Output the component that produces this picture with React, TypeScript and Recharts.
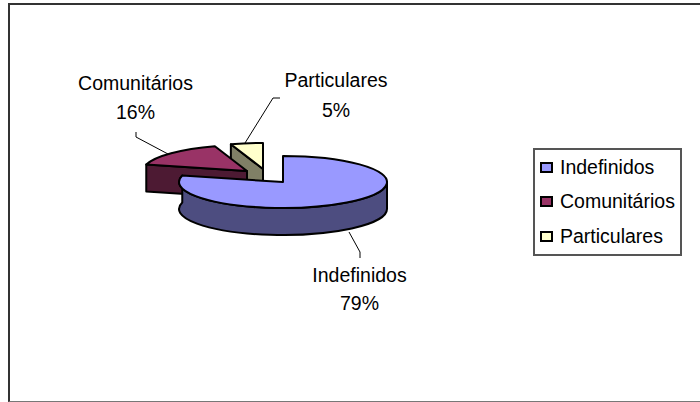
import { PieChart, Pie, Legend } from 'recharts';

const categories = ['Indefinidos', 'Comunitários', 'Particulares'];
const shares = [79, 16, 5];
const topColors = ['#9999ff', '#993366', '#ffffcc'];
const sideColors = ['#4d4d80', '#4d1a33', '#808066'];

// Particulares is painted first so the big slice ends up on top
const pieData = categories
  .map((name, i) => ({ name, value: shares[i], fill: topColors[i], side: sideColors[i] }))
  .reverse();

const SQUASH = 0.25;
const DEPTH = 27;
const RAD = Math.PI / 180;

// how far each slice is pulled out of the pie
const explode: Record<string, [number, number]> = {
  Indefinidos: [0, 0],
  'Comunitários': [-36, -11],
  Particulares: [-20, -13],
};

// label text centre + leader line
const labelSpots: Record<string, { x: number; y1: number; y2: number; line: string }> = {
  Indefinidos: { x: 359.5, y1: 275, y2: 303, line: '349,232 360,252 360,258' },
  'Comunitários': { x: 135.5, y1: 83, y2: 112, line: '136,132 136,137 168,154' },
  Particulares: { x: 336, y1: 80, y2: 110, line: '280,98 273,98 245,143' },
};

// ── Fake 3D slice: flattened sector with an extruded wall ─────────────────────
function Slice3D(props: any) {
  const { cx, cy, outerRadius, startAngle, endAngle, fill, name, side } = props;
  const [dx, dy] = explode[name];
  const ox = cx + dx;
  const oy = cy + dy;
  const rx = outerRadius;
  const ry = outerRadius * SQUASH;
  const lo = Math.min(startAngle, endAngle);
  const hi = Math.max(startAngle, endAngle);
  const px = (a: number) => ox + rx * Math.cos(a * RAD);
  const py = (a: number) => oy - ry * Math.sin(a * RAD);
  const large = hi - lo > 180 ? 1 : 0;

  const top = `M${ox},${oy} L${px(lo)},${py(lo)} A${rx},${ry} 0 ${large} 0 ${px(hi)},${py(hi)} Z`;
  const cut = (a: number) =>
    `M${ox},${oy} L${px(a)},${py(a)} L${px(a)},${py(a) + DEPTH} L${ox},${oy + DEPTH} Z`;

  // only cut faces turned towards the viewer get drawn
  const showLo = Math.cos(lo * RAD) > 0.001;
  const showHi = Math.cos(hi * RAD) < -0.001;

  // outer wall only for the slice that reaches the front of the ellipse
  const to = Math.min(hi, 360);
  const wallLarge = to - lo > 180 ? 1 : 0;
  const wall =
    hi > 180
      ? `M${px(lo)},${py(lo)} A${rx},${ry} 0 ${wallLarge} 0 ${px(to)},${py(to)} L${px(to)},${py(to) + DEPTH} A${rx},${ry} 0 ${wallLarge} 1 ${px(lo)},${py(lo) + DEPTH} Z`
      : null;

  return (
    <g stroke="#000" strokeWidth={2} strokeLinejoin="round">
      {showHi && <path d={cut(hi)} fill={side} />}
      {showLo && <path d={cut(lo)} fill={side} />}
      {wall && <path d={wall} fill={side} />}
      <path d={top} fill={fill} />
    </g>
  );
}

function SliceLabel(props: any) {
  const spot = labelSpots[props.name];
  return (
    <g>
      <polyline points={spot.line} fill="none" stroke="#000" strokeWidth={1} />
      <text x={spot.x} y={spot.y1} textAnchor="middle" dominantBaseline="central" fontSize={19.5} fill="#000">
        {props.name}
      </text>
      <text x={spot.x} y={spot.y2} textAnchor="middle" dominantBaseline="central" fontSize={19.5} fill="#000">
        {`${props.value}%`}
      </text>
    </g>
  );
}

function LegendBox({ payload }: any) {
  const rows = [...(payload ?? [])].sort(
    (a: any, b: any) => categories.indexOf(a.value) - categories.indexOf(b.value),
  );
  return (
    <div
      style={{
        boxSizing: 'border-box',
        width: 149,
        height: 108,
        border: '2px solid #555',
        background: '#fff',
        display: 'flex',
        flexDirection: 'column',
        justifyContent: 'space-around',
        paddingLeft: 5,
      }}
    >
      {rows.map((row: any) => (
        <div key={row.value} style={{ display: 'flex', alignItems: 'center', fontSize: 19.5, color: '#000' }}>
          <div
            style={{
              boxSizing: 'border-box',
              width: 13,
              height: 11,
              marginRight: 7,
              background: row.color,
              border: '2px solid #000',
            }}
          />
          <span>{row.value}</span>
        </div>
      ))}
    </div>
  );
}

export default function App() {
  return (
    <div
      style={{
        position: 'absolute',
        left: 0,
        top: 0,
        width: 700,
        height: 402,
        overflow: 'hidden',
        background: '#fff',
        fontFamily: '"Liberation Sans", Arial, sans-serif',
      }}
    >
      <div
        style={{
          position: 'absolute',
          boxSizing: 'border-box',
          left: 8,
          top: 3,
          width: 720,
          height: 399,
          borderLeft: '2px solid #333',
          borderTop: '2px solid #333',
          borderBottom: '1px solid #777',
        }}
      />
      <PieChart
        width={700}
        height={402}
        margin={{ top: 0, right: 0, bottom: 0, left: 0 }}
        style={{ position: 'absolute', left: 0, top: 0 }}
      >
        <Pie
          data={pieData}
          dataKey="value"
          nameKey="name"
          cx={283}
          cy={182}
          outerRadius={104}
          startAngle={90}
          endAngle={450}
          stroke="none"
          shape={Slice3D}
          label={SliceLabel}
          labelLine={false}
          isAnimationActive={false}
        />
        <Legend
          content={<LegendBox />}
          wrapperStyle={{ position: 'absolute', left: 533, top: 148, width: 149, height: 108 }}
        />
      </PieChart>
    </div>
  );
}
